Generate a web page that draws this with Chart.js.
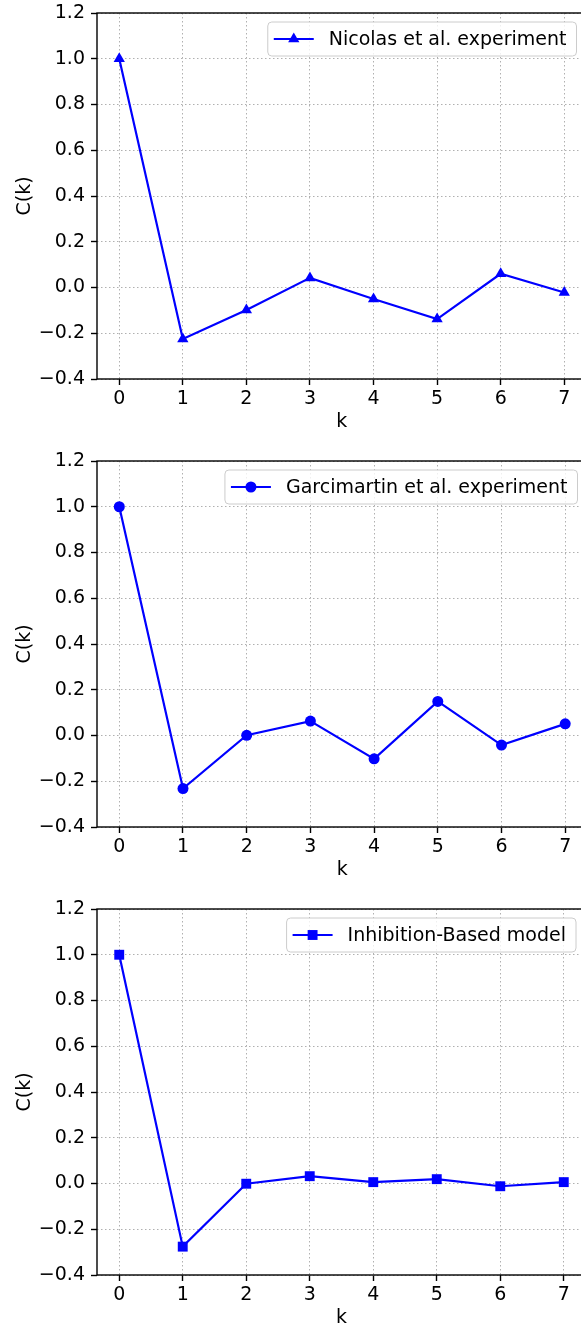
<!DOCTYPE html>
<html>
<head>
<meta charset="utf-8">
<script src="https://cdn.jsdelivr.net/npm/chart.js@4.4.0/dist/chart.umd.min.js"></script>
<style>
  html, body { margin: 0; padding: 0; background: #fff; overflow: hidden; }
  .panel { position: absolute; left: 0; width: 593px; height: 448px; }
</style>
</head>
<body>
<div class="panel" style="top:0px"><canvas id="grafico1"></canvas></div>
<div class="panel" style="top:448px"><canvas id="grafico2"></canvas></div>
<div class="panel" style="top:896px"><canvas id="grafico3"></canvas></div>
<script>
// datos
var kValues = [0, 1, 2, 3, 4, 5, 6, 7];
var nicolasValues = [1.0, -0.225, -0.098, 0.042, -0.050, -0.138, 0.060, -0.022];
var garcimartinValues = [1.0, -0.232, 0.001, 0.063, -0.102, 0.149, -0.042, 0.051];
var inhibitionValues = [1.0, -0.276, -0.001, 0.032, 0.006, 0.019, -0.012, 0.006];
var yTicks = [-0.4, -0.2, 0.0, 0.2, 0.4, 0.6, 0.8, 1.0, 1.2];
var xTicks = [0, 1, 2, 3, 4, 5, 6, 7];

var fuente = '"DejaVu Sans", "Liberation Sans", sans-serif';
var tam = 19;
var azul = '#0000ff';

function roundRect(ctx, x, y, w, h, r) {
  ctx.beginPath();
  ctx.moveTo(x + r, y);
  ctx.lineTo(x + w - r, y);
  ctx.arcTo(x + w, y, x + w, y + r, r);
  ctx.lineTo(x + w, y + h - r);
  ctx.arcTo(x + w, y + h, x + w - r, y + h, r);
  ctx.lineTo(x + r, y + h);
  ctx.arcTo(x, y + h, x, y + h - r, r);
  ctx.lineTo(x, y + r);
  ctx.arcTo(x, y, x + r, y, r);
  ctx.closePath();
}

// marco de los ejes y leyenda estilo matplotlib
var marcoYLeyenda = {
  id: 'marcoYLeyenda',
  afterDraw: function (chart) {
    var ctx = chart.ctx;
    var a = chart.chartArea;
    ctx.save();
    ctx.strokeStyle = '#000';
    ctx.lineWidth = 1.4;
    ctx.strokeRect(a.left, a.top, a.right - a.left, a.bottom - a.top);

    var ds = chart.data.datasets[0];
    ctx.font = tam + 'px ' + fuente;
    var tw = ctx.measureText(ds.label).width;
    var right = a.right - 10;
    var top = a.top + 9;
    var h = 34;
    var textEnd = right - 10;
    var textStart = textEnd - tw;
    var lineEnd = textStart - 15;
    var lineStart = lineEnd - 40;
    var left = lineStart - 6;
    var cy = top + h / 2;

    roundRect(ctx, left, top, right - left, h, 4);
    ctx.fillStyle = 'rgba(255,255,255,0.8)';
    ctx.fill();
    ctx.strokeStyle = '#cccccc';
    ctx.lineWidth = 1;
    ctx.stroke();

    ctx.strokeStyle = azul;
    ctx.lineWidth = 2.2;
    ctx.beginPath();
    ctx.moveTo(lineStart, cy);
    ctx.lineTo(lineEnd, cy);
    ctx.stroke();
    ctx.fillStyle = azul;
    Chart.helpers.drawPoint(ctx, {
      pointStyle: ds.pointStyle,
      radius: ds.pointRadius,
      rotation: 0,
      borderWidth: 0
    }, (lineStart + lineEnd) / 2, cy);

    ctx.fillStyle = '#000';
    ctx.textBaseline = 'middle';
    ctx.textAlign = 'left';
    ctx.fillText(ds.label, textStart, cy + 1);
    ctx.restore();
  }
};

function crear_grafico(id, label, valores, estilo, radio) {
  var puntos = [];
  kValues.forEach(function (k, i) {
    puntos.push({ x: k, y: valores[i] });
  });
  return new Chart(document.getElementById(id), {
    type: 'scatter',
    data: {
      datasets: [{
        label: label,
        data: puntos,
        showLine: true,
        borderColor: azul,
        backgroundColor: azul,
        borderWidth: 2.2,
        pointStyle: estilo,
        pointRadius: radio,
        pointBorderWidth: 0,
        tension: 0
      }]
    },
    options: {
      responsive: true,
      maintainAspectRatio: false,
      animation: false,
      layout: { padding: { top: 13, right: 4, left: 0, bottom: 0 } },
      plugins: {
        legend: { display: false },
        tooltip: { enabled: false }
      },
      scales: {
        x: {
          type: 'linear',
          min: -0.35,
          max: 7.35,
          afterBuildTicks: function (scale) {
            scale.ticks = xTicks.map(function (v) { return { value: v }; });
          },
          afterFit: function (scale) {
            scale.height = 69;
            scale.paddingLeft = 0;
            scale.paddingRight = 0;
          },
          ticks: {
            color: '#000',
            font: { family: fuente, size: tam },
            padding: 3,
            maxRotation: 0,
            autoSkip: false,
            callback: function (v) { return String(v); }
          },
          grid: {
            color: '#b0b0b0',
            lineWidth: 1,
            tickLength: 6,
            tickColor: '#000',
            tickWidth: 1.4,
            tickBorderDash: []
          },
          border: { display: false, dash: [1.5, 2.5] },
          title: {
            display: true,
            text: 'k',
            color: '#000',
            font: { family: fuente, size: tam },
            padding: { top: 0, bottom: 15 }
          }
        },
        y: {
          min: -0.4,
          max: 1.2,
          afterBuildTicks: function (scale) {
            scale.ticks = yTicks.map(function (v) { return { value: v }; });
          },
          afterFit: function (scale) {
            scale.width = 97;
            scale.paddingTop = 0;
            scale.paddingBottom = 0;
          },
          ticks: {
            color: '#000',
            font: { family: fuente, size: tam },
            padding: 6,
            callback: function (v) {
              var s = Math.abs(v).toFixed(1);
              return v < -1e-9 ? '\u2212' + s : s;
            }
          },
          grid: {
            color: '#b0b0b0',
            lineWidth: 1,
            tickLength: 6,
            tickColor: '#000',
            tickWidth: 1.4,
            tickBorderDash: []
          },
          border: { display: false, dash: [1.5, 2.5] },
          title: {
            display: true,
            text: 'C(k)',
            color: '#000',
            font: { family: fuente, size: tam },
            padding: { top: 14, bottom: 0 }
          }
        }
      }
    },
    plugins: [marcoYLeyenda]
  });
}

crear_grafico('grafico1', 'Nicolas et al. experiment', nicolasValues, 'triangle', 6.5);
crear_grafico('grafico2', 'Garcimartin et al. experiment', garcimartinValues, 'circle', 5.5);
crear_grafico('grafico3', 'Inhibition-Based model', inhibitionValues, 'rect', 7);
</script>
</body>
</html>
